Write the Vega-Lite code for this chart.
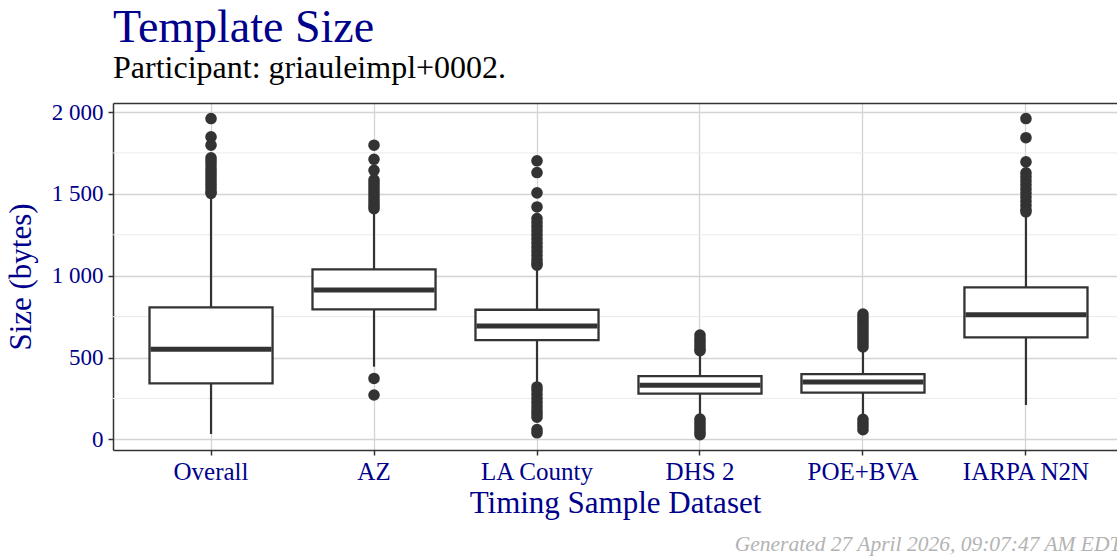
{
  "$schema": "https://vega.github.io/schema/vega-lite/v6.json",
  "width": 1004,
  "height": 347,
  "autosize": {"type": "none"},
  "padding": {"left": 113, "top": 103, "right": 0, "bottom": 108},
  "background": "white",
  "title": {
    "text": "Template Size",
    "subtitle": "Participant: griauleimpl+0002.",
    "anchor": "start",
    "frame": "group",
    "font": "Liberation Serif",
    "fontSize": 46,
    "fontWeight": "normal",
    "color": "#00008B",
    "subtitleFont": "Liberation Serif",
    "subtitleFontSize": 32,
    "subtitleColor": "black",
    "subtitlePadding": 1,
    "offset": 16
  },
  "datasets": {
    "stats": [
      {"dataset": "Overall", "lo": 33, "q1": 342, "med": 551, "q3": 806, "hi": 1500},
      {"dataset": "AZ", "lo": 444, "q1": 794, "med": 912, "q3": 1038, "hi": 1400},
      {"dataset": "LA County", "lo": 345, "q1": 606, "med": 692, "q3": 792, "hi": 1050},
      {"dataset": "DHS 2", "lo": 140, "q1": 280, "med": 330, "q3": 386, "hi": 528},
      {"dataset": "POE+BVA", "lo": 140, "q1": 285, "med": 350, "q3": 399, "hi": 548},
      {"dataset": "IARPA N2N", "lo": 210, "q1": 623, "med": 761, "q3": 928, "hi": 1375}
    ],
    "outliers": [
      {"dataset": "Overall", "size": 1960}, {"dataset": "Overall", "size": 1848}, {"dataset": "Overall", "size": 1797},
      {"dataset": "Overall", "size": 1720}, {"dataset": "Overall", "size": 1700}, {"dataset": "Overall", "size": 1680},
      {"dataset": "Overall", "size": 1655}, {"dataset": "Overall", "size": 1635}, {"dataset": "Overall", "size": 1615},
      {"dataset": "Overall", "size": 1595}, {"dataset": "Overall", "size": 1575}, {"dataset": "Overall", "size": 1555},
      {"dataset": "Overall", "size": 1535}, {"dataset": "Overall", "size": 1515}, {"dataset": "Overall", "size": 1503},
      {"dataset": "AZ", "size": 1797}, {"dataset": "AZ", "size": 1711}, {"dataset": "AZ", "size": 1644},
      {"dataset": "AZ", "size": 1585}, {"dataset": "AZ", "size": 1565}, {"dataset": "AZ", "size": 1545},
      {"dataset": "AZ", "size": 1525}, {"dataset": "AZ", "size": 1505}, {"dataset": "AZ", "size": 1485},
      {"dataset": "AZ", "size": 1465}, {"dataset": "AZ", "size": 1445}, {"dataset": "AZ", "size": 1425},
      {"dataset": "AZ", "size": 1410}, {"dataset": "AZ", "size": 372}, {"dataset": "AZ", "size": 271},
      {"dataset": "LA County", "size": 1702}, {"dataset": "LA County", "size": 1630}, {"dataset": "LA County", "size": 1506},
      {"dataset": "LA County", "size": 1420}, {"dataset": "LA County", "size": 1349}, {"dataset": "LA County", "size": 1325},
      {"dataset": "LA County", "size": 1300}, {"dataset": "LA County", "size": 1275}, {"dataset": "LA County", "size": 1250},
      {"dataset": "LA County", "size": 1225}, {"dataset": "LA County", "size": 1200}, {"dataset": "LA County", "size": 1175},
      {"dataset": "LA County", "size": 1150}, {"dataset": "LA County", "size": 1125}, {"dataset": "LA County", "size": 1100},
      {"dataset": "LA County", "size": 1080}, {"dataset": "LA County", "size": 1064},
      {"dataset": "LA County", "size": 320}, {"dataset": "LA County", "size": 300}, {"dataset": "LA County", "size": 275},
      {"dataset": "LA County", "size": 250}, {"dataset": "LA County", "size": 225}, {"dataset": "LA County", "size": 200},
      {"dataset": "LA County", "size": 175}, {"dataset": "LA County", "size": 155}, {"dataset": "LA County", "size": 135},
      {"dataset": "LA County", "size": 60}, {"dataset": "LA County", "size": 40},
      {"dataset": "DHS 2", "size": 637}, {"dataset": "DHS 2", "size": 615}, {"dataset": "DHS 2", "size": 595},
      {"dataset": "DHS 2", "size": 575}, {"dataset": "DHS 2", "size": 555}, {"dataset": "DHS 2", "size": 542},
      {"dataset": "DHS 2", "size": 124}, {"dataset": "DHS 2", "size": 105}, {"dataset": "DHS 2", "size": 85},
      {"dataset": "DHS 2", "size": 65}, {"dataset": "DHS 2", "size": 45}, {"dataset": "DHS 2", "size": 29},
      {"dataset": "POE+BVA", "size": 765}, {"dataset": "POE+BVA", "size": 745}, {"dataset": "POE+BVA", "size": 725},
      {"dataset": "POE+BVA", "size": 705}, {"dataset": "POE+BVA", "size": 685}, {"dataset": "POE+BVA", "size": 665},
      {"dataset": "POE+BVA", "size": 645}, {"dataset": "POE+BVA", "size": 625}, {"dataset": "POE+BVA", "size": 605},
      {"dataset": "POE+BVA", "size": 585}, {"dataset": "POE+BVA", "size": 565},
      {"dataset": "POE+BVA", "size": 122}, {"dataset": "POE+BVA", "size": 100}, {"dataset": "POE+BVA", "size": 80},
      {"dataset": "POE+BVA", "size": 59},
      {"dataset": "IARPA N2N", "size": 1960}, {"dataset": "IARPA N2N", "size": 1843}, {"dataset": "IARPA N2N", "size": 1695},
      {"dataset": "IARPA N2N", "size": 1628}, {"dataset": "IARPA N2N", "size": 1604}, {"dataset": "IARPA N2N", "size": 1580},
      {"dataset": "IARPA N2N", "size": 1555}, {"dataset": "IARPA N2N", "size": 1530}, {"dataset": "IARPA N2N", "size": 1505},
      {"dataset": "IARPA N2N", "size": 1480}, {"dataset": "IARPA N2N", "size": 1455}, {"dataset": "IARPA N2N", "size": 1430},
      {"dataset": "IARPA N2N", "size": 1405}, {"dataset": "IARPA N2N", "size": 1390}
    ],
    "minor": [{"v": 250}, {"v": 750}, {"v": 1250}, {"v": 1750}],
    "caption": [{"k": "caption"}]
  },
  "layer": [
    {
      "encoding": {
        "x": {
          "field": "dataset",
          "type": "nominal",
          "sort": ["Overall", "AZ", "LA County", "DHS 2", "POE+BVA", "IARPA N2N"],
          "scale": {"paddingInner": 0.245, "paddingOuter": 0.2025, "align": 0.553},
          "axis": {
            "title": "Timing Sample Dataset",
            "orient": "bottom",
            "bandPosition": 0.5,
            "labelAngle": 0,
            "grid": true,
            "gridColor": "#d4d4d4",
            "gridWidth": 1.3,
            "domain": true,
            "domainColor": "#333333",
            "domainWidth": 1.5,
            "ticks": true,
            "tickColor": "#333333",
            "tickWidth": 1.5,
            "tickSize": 5,
            "labelFont": "Liberation Serif",
            "labelFontSize": 25,
            "labelColor": "#00008B",
            "labelPadding": 4,
            "titleFont": "Liberation Serif",
            "titleFontSize": 31,
            "titleFontWeight": "normal",
            "titleColor": "#00008B",
            "titlePadding": 4
          }
        }
      },
      "layer": [
        {
          "data": {"name": "minor"},
          "mark": {"type": "rule", "color": "#ebebeb", "strokeWidth": 1},
          "encoding": {"x": null, "y": {"field": "v", "type": "quantitative"}}
        },
        {
          "data": {"name": "stats"},
          "mark": {"type": "rule", "color": "#333333", "strokeWidth": 2.2},
          "encoding": {
            "y": {
              "field": "lo",
              "type": "quantitative",
              "title": "Size (bytes)",
              "scale": {"domain": [-65, 2055], "nice": false, "zero": false},
              "axis": {
                "values": [0, 500, 1000, 1500, 2000],
                "labelExpr": "replace(format(datum.value, ','), ',', ' ')",
                "grid": true,
                "gridColor": "#d4d4d4",
                "gridWidth": 1.3,
                "domain": true,
                "domainColor": "#333333",
                "domainWidth": 1.5,
                "ticks": true,
                "tickColor": "#333333",
                "tickWidth": 1.5,
                "tickSize": 5,
                "labelFont": "Liberation Serif",
                "labelFontSize": 23,
                "labelColor": "#00008B",
                "labelPadding": 5,
                "titleFont": "Liberation Serif",
                "titleFontSize": 31,
                "titleFontWeight": "normal",
                "titleColor": "#00008B",
                "titlePadding": 14
              }
            },
            "y2": {"field": "hi"}
          }
        },
        {
          "data": {"name": "stats"},
          "mark": {"type": "bar", "fill": "white", "stroke": "#333333", "strokeWidth": 2.3},
          "encoding": {
            "y": {"field": "q1", "type": "quantitative"},
            "y2": {"field": "q3"}
          }
        },
        {
          "data": {"name": "stats"},
          "mark": {"type": "tick", "color": "#333333", "thickness": 5, "size": 121, "opacity": 1},
          "encoding": {"y": {"field": "med", "type": "quantitative"}}
        },
        {
          "data": {"name": "outliers"},
          "mark": {"type": "circle", "color": "#333333", "size": 135, "opacity": 1},
          "encoding": {"y": {"field": "size", "type": "quantitative"}}
        }
      ]
    },
    {
      "data": {"name": "caption"},
      "mark": {"type": "point", "opacity": 0},
      "encoding": {
        "x": {
          "field": "k",
          "type": "nominal",
          "axis": {
            "orient": "top",
            "title": "Generated 27 April 2026, 09:07:47 AM EDT",
            "domain": true,
            "domainColor": "#333333",
            "domainWidth": 1.5,
            "ticks": false,
            "labels": false,
            "grid": false,
            "titleFont": "Liberation Serif",
            "titleFontStyle": "italic",
            "titleFontWeight": "normal",
            "titleFontSize": 21.5,
            "titleColor": "#b3b3b3",
            "titleAngle": 0,
            "titleAlign": "right",
            "titleBaseline": "alphabetic",
            "titleX": 1008,
            "titleY": 447
          }
        }
      }
    }
  ],
  "resolve": {"scale": {"x": "independent"}, "axis": {"x": "independent"}},
  "config": {
    "view": {"stroke": null},
    "axis": {"labelFont": "Liberation Serif", "titleFont": "Liberation Serif"}
  }
}
